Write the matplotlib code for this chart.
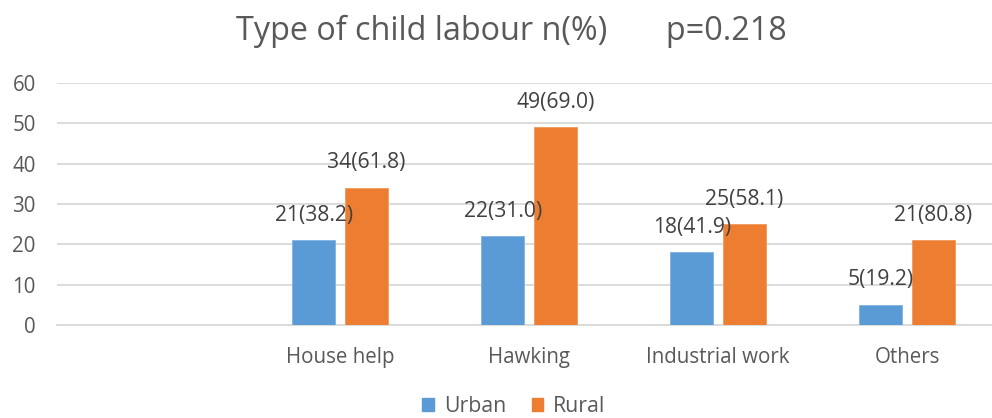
import numpy as np
import matplotlib.pyplot as plt
from matplotlib.patches import Patch

# data (first category is blank in the original)
categories = ["", "House help", "Hawking", "Industrial work", "Others"]
urban = [np.nan, 21, 22, 18, 5]
urban_pct = [np.nan, 38.2, 31.0, 41.9, 19.2]
rural = [np.nan, 34, 49, 25, 21]
rural_pct = [np.nan, 61.8, 69.0, 58.1, 80.8]

blue = '#5B9BD5'
orange = '#ED7D31'
txt = '#595959'
grid = '#D9D9D9'

plt.rcParams['font.family'] = ['Open Sans', 'DejaVu Sans']

fig = plt.figure(figsize=(9.92, 4.18), dpi=100)
ax = fig.add_axes([56.5 / 992, 93 / 418, 945 / 992, 242 / 418])

x = np.arange(len(categories))
w = 0.227
off = 0.139
b1 = ax.bar(x - off, urban, w, color=blue, edgecolor='#7FB2E0', linewidth=0.6, zorder=3)
b2 = ax.bar(x + off, rural, w, color=orange, edgecolor='#F29A5C', linewidth=0.6, zorder=3)

# labels "n(%)" above each bar
for xs, vals, pcts in [(x - off, urban, urban_pct), (x + off, rural, rural_pct)]:
    for xi, v, p in zip(xs, vals, pcts):
        if np.isnan(v):
            continue
        ax.annotate(f"{v}({p:.1f})", (xi, v), xytext=(0, 18), textcoords='offset points',
                    ha='center', va='center', fontsize=15.2, color='#404040', zorder=4)

ax.set_xlim(-0.5, len(categories) - 0.5)
ax.set_ylim(0, 60)
ax.set_yticks(range(0, 61, 10))
ax.set_xticks(x)
ax.set_xticklabels(categories)
ax.yaxis.grid(True, color=grid, linewidth=1.3, zorder=0)
ax.set_axisbelow(True)
for s in ['top', 'right', 'left']:
    ax.spines[s].set_visible(False)
ax.spines['bottom'].set_color(grid)
ax.spines['bottom'].set_linewidth(1.3)
ax.tick_params(axis='both', length=0, labelsize=14.8, labelcolor=txt)
ax.tick_params(axis='x', pad=16)
ax.tick_params(axis='y', pad=15)

fig.text(0.5156, 0.925, "Type of child labour n(%)       p=0.218", ha='center', va='center',
         fontsize=23.3, color=txt)

handles = [Patch(color=blue, label='Urban'), Patch(color=orange, label='Rural')]
fig.legend(handles=handles, loc='center', bbox_to_anchor=(0.518, 0.027), ncol=2, frameon=False,
           fontsize=15.3, labelcolor=txt, handlelength=0.56, handleheight=0.56,
           handletextpad=0.45, columnspacing=1.2)

fig.savefig('out.png', dpi=100)
